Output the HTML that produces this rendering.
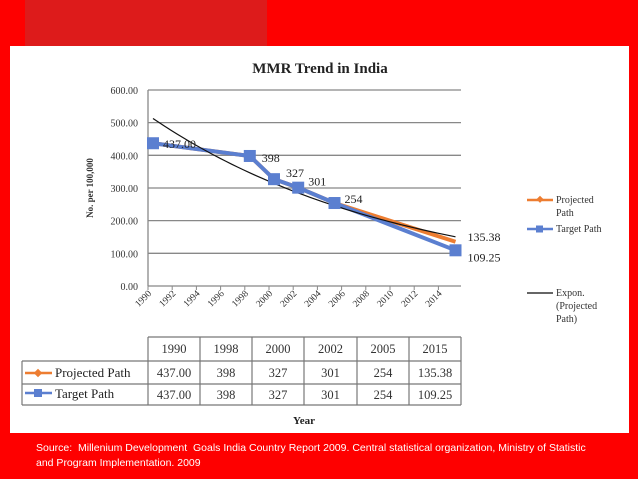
<!DOCTYPE html>
<html><head><meta charset="utf-8"><style>
body{margin:0;width:638px;height:479px;overflow:hidden;background:#fe0000;font-family:"Liberation Serif",serif}
#root{position:relative;width:638px;height:479px}
.src{position:absolute;left:36px;top:441px;color:#fff;font:10.5px "Liberation Sans",sans-serif;line-height:15px}
</style></head><body>
<div id="root">
<div style="position:absolute;left:25px;top:0;width:242px;height:46px;background:#dd1b1b"></div>
<div style="position:absolute;left:10px;top:46px;width:619px;height:387px;background:#fff"></div>
<svg id="chart" width="638" height="479" style="position:absolute;left:0;top:0"></svg>
<div class="src">Source:&nbsp; Millenium Development&nbsp; Goals India Country Report 2009. Central statistical organization, Ministry of Statistic<br>and Program Implementation. 2009</div>
</div>
<script>
const years=[1990,1998,2000,2002,2005,2015];
const projected=[437.00,398,327,301,254,135.38];
const target=[437.00,398,327,301,254,109.25];
const projLabels=["437.00","398","327","301","254","135.38"];
const targLabels=["437.00","398","327","301","254","109.25"];
const yTicks=[0,100,200,300,400,500,600];
const yTickLabels=["0.00","100.00","200.00","300.00","400.00","500.00","600.00"];
const xTicks=[1990,1992,1994,1996,1998,2000,2002,2004,2006,2008,2010,2012,2014];

const NS="http://www.w3.org/2000/svg";
const svg=document.getElementById('chart');
function el(t,a,p){const e=document.createElementNS(NS,t);for(const k in a)e.setAttribute(k,a[k]);(p||svg).appendChild(e);return e;}
const X=v=>153+(v-1990)*12.1;
const Y=v=>286-v*0.3267;
const L=148,R=461;

let t=el('text',{x:320,y:73,'text-anchor':'middle','font-size':15,'font-weight':'bold',fill:'#222'});t.textContent='MMR Trend in India';



yTicks.forEach((v,i)=>{
  const g=el('line',{x1:L,x2:R,y1:Y(v),y2:Y(v),stroke:'#888','stroke-width':1.3});
  
  
  const tx=el('text',{x:L-10,y:Y(v)+4,'text-anchor':'end','font-size':10,fill:'#333'});tx.textContent=yTickLabels[i];
  
  
});
const ax=el('line',{x1:L,x2:L,y1:Y(600),y2:Y(0),stroke:'#888','stroke-width':1.3});


xTicks.forEach(v=>{
  el('line',{x1:X(v)-5,x2:X(v)-5,y1:286,y2:290,stroke:'#888'});
  const tx=el('text',{x:0,y:0,'text-anchor':'end','font-size':9.5,fill:'#333',transform:`translate(${X(v)-1},${294}) rotate(-45)`});tx.textContent=v;
  
  
});
t=el('text',{x:0,y:0,'text-anchor':'middle','font-size':9,'font-weight':'bold',fill:'#333',transform:'translate(93,188) rotate(-90)'});t.textContent='No. per 100,000';



// exponential trend fit of projected path
const n=years.length;let sx=0,sy=0,sxx=0,sxy=0;
years.forEach((x,i)=>{const xx=x-1990,yy=Math.log(projected[i]);sx+=xx;sy+=yy;sxx+=xx*xx;sxy+=xx*yy;});
const b=(n*sxy-sx*sy)/(n*sxx-sx*sx),a=(sy-b*sx)/n;
let d='';for(let x=1990;x<=2015;x+=0.5){d+=(d?'L':'M')+X(x)+','+Y(Math.exp(a+b*(x-1990)));}

const pp=el('polyline',{points:years.map((y,i)=>X(y)+','+Y(projected[i])).join(' '),fill:'none',stroke:'#ed7d31','stroke-width':4});


const tp=el('polyline',{points:years.map((y,i)=>X(y)+','+Y(target[i])).join(' '),fill:'none',stroke:'#5b7fd0','stroke-width':4});


const tr=el('path',{d:d,fill:'none',stroke:'#111','stroke-width':1.2});


years.forEach((y,i)=>{
  const m=el('rect',{x:X(y)-6,y:Y(target[i])-6,width:12,height:12,fill:'#5b7fd0'});
  
  
});
const lblOff=[[10,5],[12,6],[12,-2],[10,-2],[10,0],[12,11]];
years.forEach((y,i)=>{
  const tx=el('text',{x:X(y)+lblOff[i][0],y:Y(target[i])+lblOff[i][1],'font-size':12,fill:'#222'});tx.textContent=targLabels[i];
  
  
});
t=el('text',{x:X(2015)+12,y:Y(projected[5])-1,'font-size':12,fill:'#222'});t.textContent=projLabels[5];



// legend
function legend(y,color,shape,lines,name){
  const g=el('g',{});
  
  
  el('line',{x1:527,x2:553,y1:y,y2:y,stroke:color,'stroke-width':shape?2.5:1.5},g);
  if(shape==='d')el('rect',{x:537,y:y-3,width:5,height:5,fill:color,transform:`rotate(45 540 ${y})`},g);
  if(shape==='s')el('rect',{x:536,y:y-3.5,width:7,height:7,fill:color},g);
  lines.forEach((s,i)=>{const tx=el('text',{x:556,y:y+3+i*13,'font-size':10,fill:'#333'},g);tx.textContent=s;});
}
legend(200,'#ed7d31','d',['Projected','Path'],'legend-projected-path');
legend(229,'#5b7fd0','s',['Target Path'],'legend-target-path');
legend(293,'#333',null,['Expon.','(Projected','Path)'],'legend-expon-trend');

// data table
const cols=[148,200,252,304,357,409,461];
const rows=[337,361,384,405];
const tb=el('g',{stroke:'#777','stroke-width':1.2,fill:'none'});


rows.forEach((y,i)=>el('line',{x1:i===0?148:22,x2:461,y1:y,y2:y},tb));
cols.forEach(x=>el('line',{x1:x,x2:x,y1:337,y2:405},tb));
el('line',{x1:22,x2:22,y1:361,y2:405},tb);
years.forEach((y,i)=>{
  const cx=(cols[i]+cols[i+1])/2;
  [[y,353],[projLabels[i],377],[targLabels[i],399]].forEach(([s,yy])=>{
    const tx=el('text',{x:cx,y:yy,'text-anchor':'middle','font-size':12.5,fill:'#333'});tx.textContent=s;
    
    
  });
});
el('line',{x1:25,x2:52,y1:373,y2:373,stroke:'#ed7d31','stroke-width':2.5});
el('rect',{x:35,y:370,width:6,height:6,fill:'#ed7d31',transform:'rotate(45 38 373)'});
el('line',{x1:25,x2:52,y1:393,y2:393,stroke:'#5b7fd0','stroke-width':2.5});
el('rect',{x:34,y:389,width:8,height:8,fill:'#5b7fd0'});
t=el('text',{x:55,y:377,'font-size':13,fill:'#222'});t.textContent='Projected Path';


t=el('text',{x:55,y:398,'font-size':13,fill:'#222'});t.textContent='Target Path';


t=el('text',{x:304,y:424,'text-anchor':'middle','font-size':11,'font-weight':'bold',fill:'#222'});t.textContent='Year';


</script>
</body></html>
